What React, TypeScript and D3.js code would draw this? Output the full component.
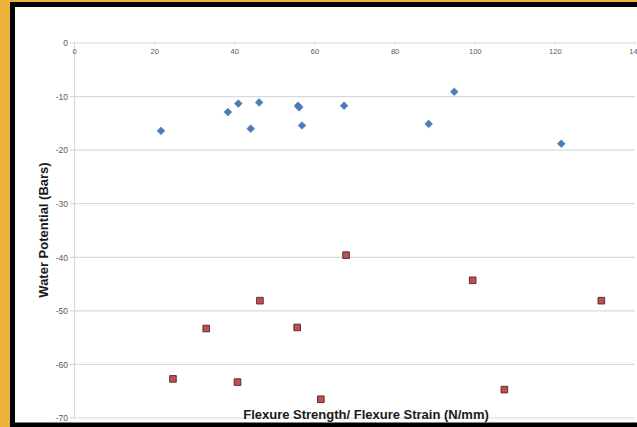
import React, { useEffect, useRef } from 'react';
import { select, scaleLinear, axisLeft, axisBottom, symbol, symbolSquare } from 'd3';

// Series 1 (blue diamonds)
const strengthX = [21.7, 38.4, 41.0, 44.1, 46.2, 55.9, 56.2, 56.9, 67.4, 88.5, 94.9, 121.6];
const strengthY = [-16.4, -12.9, -11.3, -16.0, -11.1, -11.7, -12.0, -15.4, -11.7, -15.1, -9.1, -18.8];

// Series 2 (red squares)
const strainX = [24.7, 33.0, 40.8, 46.4, 55.7, 61.6, 67.9, 99.5, 107.4, 131.6];
const strainY = [-62.7, -53.3, -63.3, -48.1, -53.1, -66.5, -39.6, -44.3, -64.7, -48.1];

const xTicks = [0, 20, 40, 60, 80, 100, 120, 140];
const yTicks = [0, -10, -20, -30, -40, -50, -60, -70];

const W = 637;
const H = 427;
const left = 74, right = 635, top = 43, bottom = 418;

const App = () => {
  const svgRef = useRef(null);

  useEffect(() => {
    const svg = select(svgRef.current);
    svg.selectAll('*').remove();

    // background + frame
    svg.append('rect').attr('width', W).attr('height', H).attr('fill', '#EDB33C');
    svg.append('rect').attr('x', 10).attr('y', 2).attr('width', 640).attr('height', 430).attr('fill', '#000');
    svg.append('rect').attr('x', 15).attr('y', 7).attr('width', 640).attr('height', 415.5).attr('fill', '#fff');

    const xScale = scaleLinear().domain([0, 140]).range([left, right]);
    const yScale = scaleLinear().domain([-70, 0]).range([bottom, top]);

    // gridlines
    svg.append('g')
      .selectAll('line')
      .data(yTicks)
      .join('line')
      .attr('x1', left - 4)
      .attr('x2', right)
      .attr('y1', d => yScale(d))
      .attr('y2', d => yScale(d))
      .attr('stroke', '#d9d9d9')
      .attr('stroke-width', 1.2);

    const yAxis = axisLeft(yScale).tickValues(yTicks).tickSize(0).tickPadding(6).tickFormat(d => String(d));
    const gy = svg.append('g').attr('transform', `translate(${left},0)`).call(yAxis);
    gy.select('.domain').attr('stroke', '#d9d9d9').attr('stroke-width', 1.2);
    gy.selectAll('text')
      .attr('font-family', 'Liberation Sans, Arial, sans-serif')
      .attr('font-size', 8.5)
      .attr('fill', '#595959');

    const xAxis = axisBottom(xScale).tickValues(xTicks).tickSize(3).tickPadding(4).tickFormat(d => String(d));
    const gx = svg.append('g').attr('transform', `translate(0,${top - 1.5})`).call(xAxis);
    gx.select('.domain').remove();
    gx.selectAll('line').attr('stroke', '#d9d9d9').attr('stroke-width', 1.2);
    gx.selectAll('text')
      .attr('font-family', 'Liberation Sans, Arial, sans-serif')
      .attr('font-size', 7.5)
      .attr('fill', '#595959');

    // blue diamonds (square turned 45deg)
    svg.append('g')
      .selectAll('path')
      .data(strengthX.map((x, i) => [x, strengthY[i]]))
      .join('path')
      .attr('d', symbol().type(symbolSquare).size(30))
      .attr('transform', d => `translate(${xScale(d[0])},${yScale(d[1])}) rotate(45)`)
      .attr('fill', '#4A7EBB')
      .attr('stroke', '#3F6FA8')
      .attr('stroke-width', 0.5);

    // red squares
    svg.append('g')
      .selectAll('path')
      .data(strainX.map((x, i) => [x, strainY[i]]))
      .join('path')
      .attr('d', symbol().type(symbolSquare).size(44))
      .attr('transform', d => `translate(${xScale(d[0])},${yScale(d[1])})`)
      .attr('fill', '#C0504D')
      .attr('stroke', '#4a2a29')
      .attr('stroke-width', 0.9);

    // axis titles
    svg.append('text')
      .attr('x', 366)
      .attr('y', 419)
      .attr('text-anchor', 'middle')
      .attr('font-family', 'Liberation Sans, Arial, sans-serif')
      .attr('font-weight', 'bold')
      .attr('font-size', 13)
      .attr('fill', '#1a1a1a')
      .text('Flexure Strength/ Flexure Strain (N/mm)');

    svg.append('text')
      .attr('transform', 'translate(48,230) rotate(-90)')
      .attr('text-anchor', 'middle')
      .attr('font-family', 'Liberation Sans, Arial, sans-serif')
      .attr('font-weight', 'bold')
      .attr('font-size', 13)
      .attr('fill', '#1a1a1a')
      .text('Water Potential (Bars)');
  }, []);

  return (
    <div style={{ position: 'absolute', left: 0, top: 0 }}>
      <svg ref={svgRef} width={W} height={H} style={{ display: 'block' }} />
    </div>
  );
};

export default App;
